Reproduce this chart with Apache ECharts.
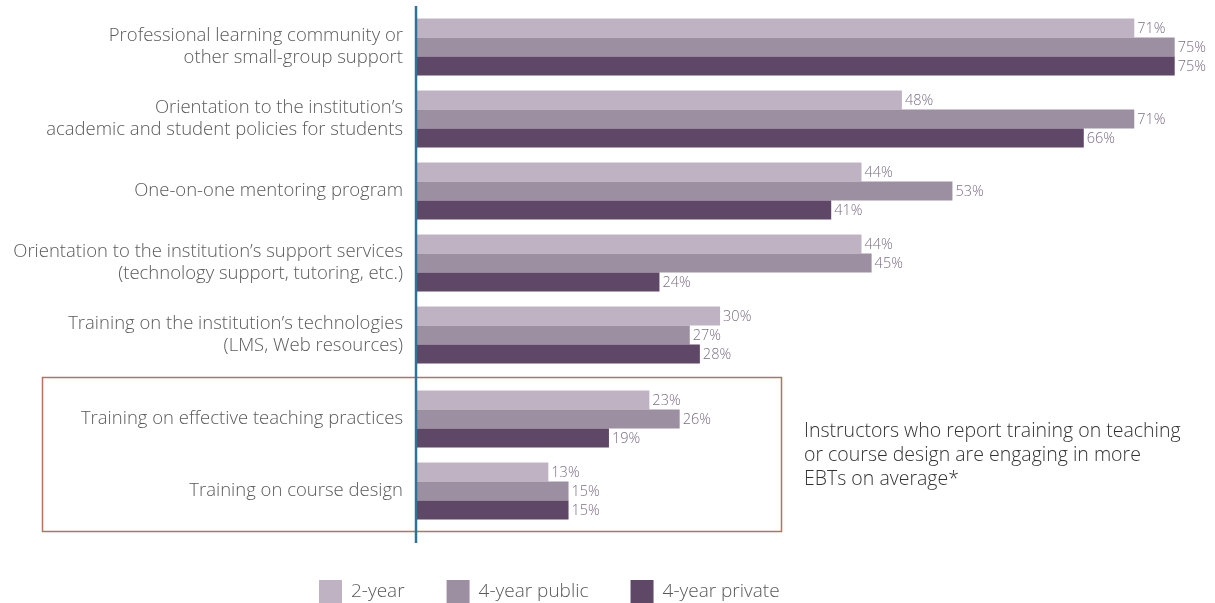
<!DOCTYPE html>
<html>
<head>
<meta charset="utf-8">
<title>Faculty support and training by institution type</title>
<script src="https://cdn.jsdelivr.net/npm/echarts@6/dist/echarts.min.js"></script>
<style>
  html, body { margin: 0; padding: 0; background: #ffffff; }
  #chart { width: 1215px; height: 603px; }
</style>
</head>
<body>
<div id="chart"></div>
<script>
// Support types, listed top to bottom
const categories = [
  'Professional learning community or\nother small-group support',
  'Orientation to the institution\u2019s\nacademic and student policies for students',
  'One-on-one mentoring program',
  'Orientation to the institution\u2019s support services\n(technology support, tutoring, etc.)',
  'Training on the institution\u2019s technologies\n(LMS, Web resources)',
  'Training on effective teaching practices',
  'Training on course design'
];

// Share of instructors (%) by institution type
const twoYear = [71, 48, 44, 44, 30, 23, 13];
const fourYearPublic = [75, 71, 53, 45, 27, 26, 15];
const fourYearPrivate = [75, 66, 41, 24, 28, 19, 15];

const seriesNames = ['2-year', '4-year public', '4-year private'];
const noteText = 'Instructors who report training on teaching\nor course design are engaging in more\nEBTs on average*';

// The last two items (teaching and course design training) sit in a framed block
const SPLIT = 5;

const FONT = '"Open Sans", "Noto Sans", sans-serif';
const colors = ['#bfb3c3', '#9c8fa2', '#5e4767'];

const chart = echarts.init(document.getElementById('chart'), null, { renderer: 'canvas' });

function barSeries(name, data, color, gridIndex) {
  return {
    name: name,
    type: 'bar',
    xAxisIndex: gridIndex,
    yAxisIndex: gridIndex,
    data: data,
    barWidth: 19,
    barGap: '0%',
    itemStyle: { color: color },
    label: {
      show: true,
      position: 'right',
      distance: 3,
      offset: [0, 1],
      formatter: '{c}%',
      fontFamily: FONT,
      fontWeight: 300,
      fontSize: 14.5,
      color: '#7d6e86'
    },
    emphasis: { disabled: true }
  };
}

function valueAxis(gridIndex) {
  return { type: 'value', gridIndex: gridIndex, min: 0, max: 78, show: false };
}

function categoryAxis(gridIndex, cats) {
  return {
    type: 'category',
    gridIndex: gridIndex,
    data: cats,
    inverse: true,
    axisLine: { show: false },
    axisTick: { show: false },
    splitLine: { show: false },
    axisLabel: {
      margin: 14,
      fontFamily: FONT,
      fontWeight: 300,
      fontSize: 18.5,
      lineHeight: 22,
      color: '#5a5a5a',
      align: 'right'
    }
  };
}

const seriesData = [twoYear, fourYearPublic, fourYearPrivate];
const series = [];
[0, 1].forEach(function (g) {
  seriesData.forEach(function (arr, i) {
    const part = g === 0 ? arr.slice(0, SPLIT) : arr.slice(SPLIT);
    series.push(barSeries(seriesNames[i], part, colors[i], g));
  });
});

chart.setOption({
  animation: false,
  color: colors,
  grid: [
    { left: 417, right: 10, top: 11, height: 360 },
    { left: 417, right: 10, top: 383, height: 144 }
  ],
  xAxis: [valueAxis(0), valueAxis(1)],
  yAxis: [
    categoryAxis(0, categories.slice(0, SPLIT)),
    categoryAxis(1, categories.slice(SPLIT))
  ],
  legend: {
    left: 314,
    top: 575,
    itemWidth: 23,
    itemHeight: 23,
    itemGap: 42,
    icon: 'rect',
    selectedMode: false,
    data: seriesNames,
    textStyle: {
      fontFamily: FONT,
      fontWeight: 300,
      fontSize: 19,
      color: '#5a5a5a',
      padding: [0, 0, 0, 4]
    }
  },
  series: series,
  graphic: [
    // vertical baseline along the category axis
    {
      type: 'line',
      shape: { x1: 416, y1: 6, x2: 416, y2: 543 },
      style: { stroke: '#2c7395', lineWidth: 2.5 },
      z: 10
    },
    // frame around the two teaching-related items
    {
      type: 'rect',
      shape: { x: 42.5, y: 377.5, width: 739, height: 154 },
      style: { fill: 'none', stroke: '#b5735f', lineWidth: 1.5 },
      z: 5
    },
    {
      type: 'text',
      left: 804,
      top: 419,
      style: {
        text: noteText,
        fontFamily: FONT,
        fontWeight: 300,
        fontSize: 19.5,
        lineHeight: 24,
        fill: '#333333'
      }
    }
  ]
});
</script>
</body>
</html>
